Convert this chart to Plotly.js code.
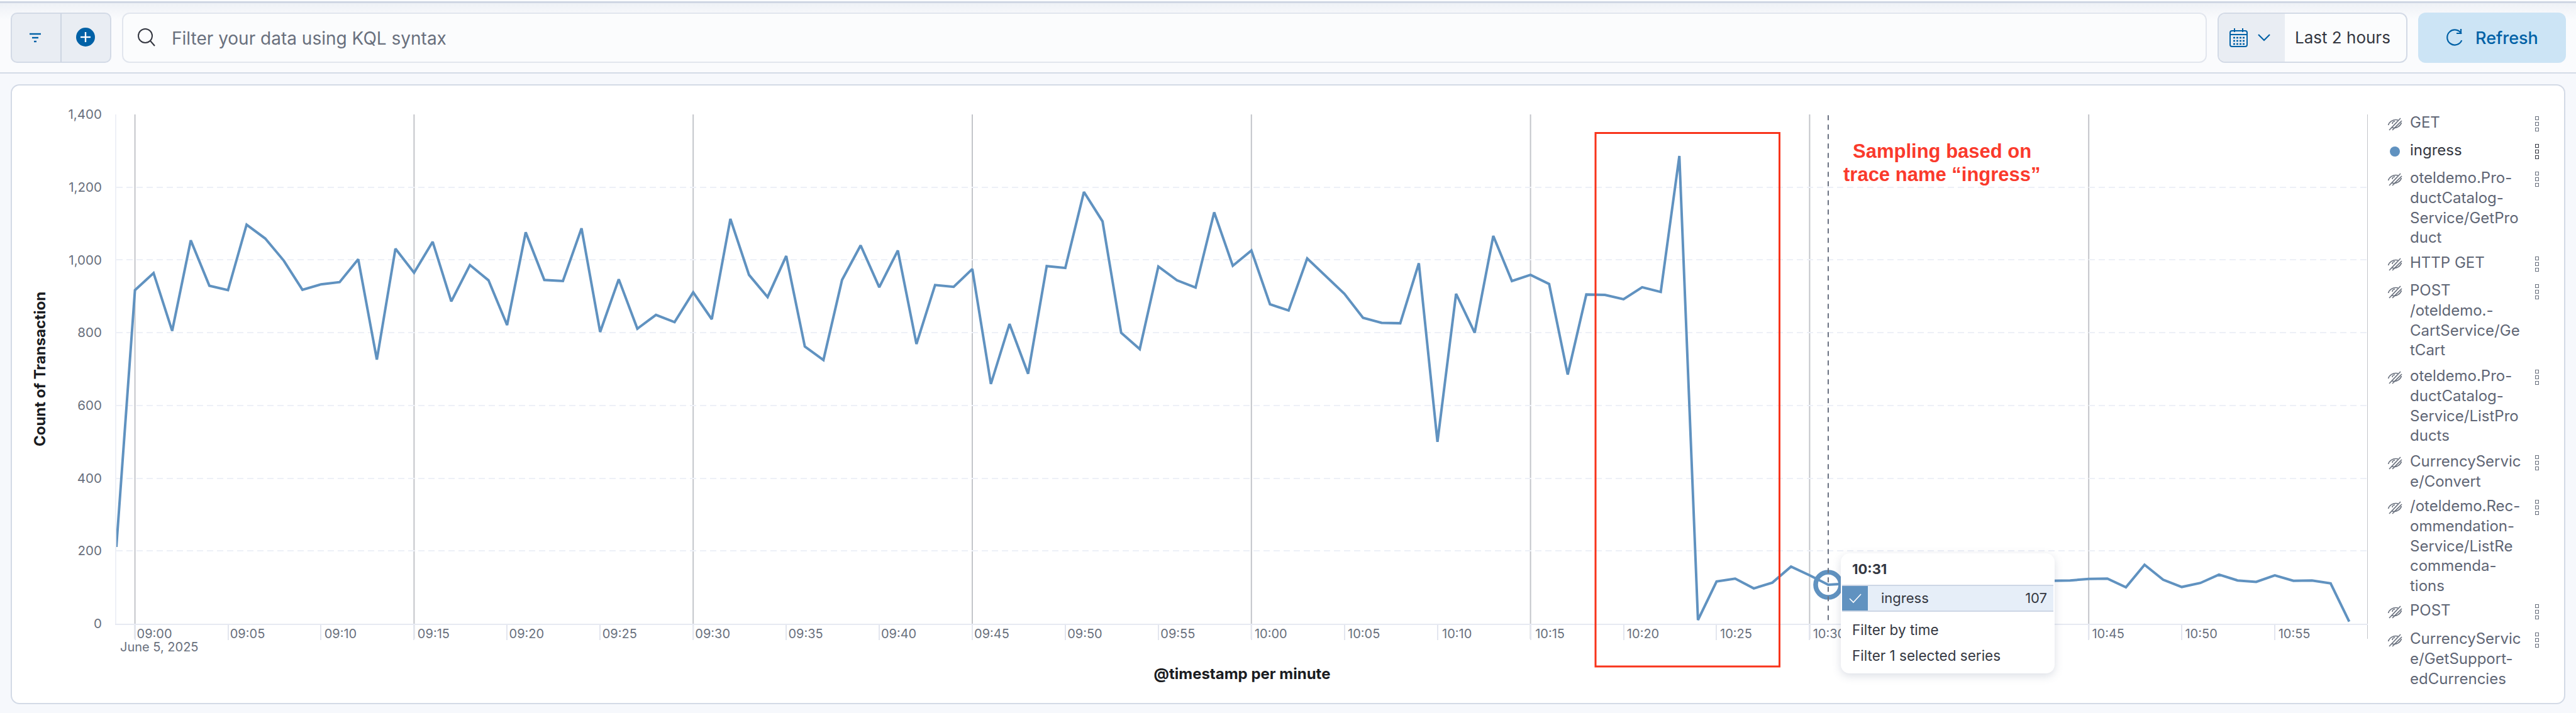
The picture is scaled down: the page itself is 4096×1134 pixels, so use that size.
<!DOCTYPE html>
<html>
<head>
<meta charset="utf-8">
<script src="https://cdn.plot.ly/plotly-3.0.1.min.js"></script>
<style>
html,body{margin:0;padding:0;width:4096px;height:1134px;overflow:hidden;background:#f6f8fc;font-family:Inter,"Noto Sans",sans-serif;}
.abs{position:absolute;box-sizing:border-box;}
#plot{position:absolute;left:0;top:0;width:4096px;height:1134px;}
.txt{position:absolute;white-space:nowrap;line-height:1;transform:translateY(-50%);}
</style>
</head>
<body>
<div class="abs" style="left:0;top:0;width:4096px;height:117px;background:#fafbfd;border-bottom:2px solid #d3dae6;"></div>
<div class="abs" style="left:0;top:2px;width:4096px;height:3px;background:#cfd6e3;"></div>
<div class="abs" style="left:0;top:5px;width:4096px;height:26px;background:linear-gradient(#eef1f6,#fafbfd);"></div>

<!-- filter group -->
<div class="abs" style="left:17px;top:20px;width:160px;height:80px;background:#e9edf3;border:2px solid #d3dae6;border-radius:10px;"></div>
<div class="abs" style="left:96px;top:21px;width:2px;height:78px;background:#cdd5e2;"></div>
<svg class="abs" style="left:41px;top:45px" width="30" height="30"><g stroke="#0061a6" stroke-width="2.4"><line x1="6" y1="9" x2="24" y2="9"/><line x1="10" y1="15" x2="20" y2="15"/><line x1="13" y1="21" x2="17" y2="21"/></g></svg>
<svg class="abs" style="left:120px;top:43px" width="32" height="32"><circle cx="16" cy="16" r="15" fill="#0061a6"/><g stroke="#fff" stroke-width="2.4"><line x1="16" y1="8" x2="16" y2="24"/><line x1="8" y1="16" x2="24" y2="16"/></g></svg>

<!-- search -->
<div class="abs" style="left:194px;top:20px;width:3315px;height:80px;background:#fbfcfd;border:2px solid #e2e6ee;border-radius:12px;"></div>
<svg class="abs" style="left:216px;top:43px" width="34" height="34"><circle cx="15" cy="14" r="11" fill="none" stroke="#343741" stroke-width="2"/><line x1="23" y1="22" x2="30" y2="30" stroke="#343741" stroke-width="2"/></svg>
<div class="txt" style="left:273px;top:61px;font-size:28px;color:#69707d;">Filter your data using KQL syntax</div>

<!-- date picker -->
<div class="abs" style="left:3526px;top:20px;width:302px;height:80px;background:#fbfcfd;border:2px solid #d3dae6;border-radius:12px;overflow:hidden;"><div style="width:105px;height:100%;background:#e9edf3;"></div></div>
<svg class="abs" style="left:3544px;top:44px" width="32" height="32"><g fill="none" stroke="#0061a6" stroke-width="2"><rect x="2" y="5" width="27" height="25" rx="3"/><line x1="2" y1="11" x2="29" y2="11"/><line x1="9" y1="1" x2="9" y2="7"/><line x1="22" y1="1" x2="22" y2="7"/></g><g stroke="#0061a6" stroke-width="2.4" stroke-dasharray="3,2"><line x1="7" y1="16" x2="25" y2="16"/><line x1="7" y1="21" x2="25" y2="21"/><line x1="7" y1="26" x2="25" y2="26"/></g></svg>
<svg class="abs" style="left:3588px;top:50px" width="24" height="20"><polyline points="3,5 12,14 21,5" fill="none" stroke="#0061a6" stroke-width="2.2"/></svg>
<div class="txt" style="left:3649px;top:60px;font-size:26px;color:#343741;">Last 2 hours</div>

<!-- refresh -->
<div class="abs" style="left:3845px;top:20px;width:235px;height:80px;background:#cce4f5;border-radius:12px;"></div>
<svg class="abs" style="left:3887px;top:44px" width="32" height="32"><path d="M24 6.5 A12 12 0 1 0 28 16" fill="none" stroke="#0061a6" stroke-width="2.2" transform="rotate(20 16 16)"/><polyline points="26,2 26,9 19,9" fill="none" stroke="#0061a6" stroke-width="2.2"/></svg>
<div class="txt" style="left:3936px;top:60px;font-size:27px;font-weight:500;color:#0061a6;">Refresh</div>

<!-- card -->
<div class="abs" style="left:17px;top:134px;width:4062px;height:986px;background:#fff;border:2px solid #d3dae6;border-radius:14px;"></div>

<div id="plot"></div>
<div id="legend"></div>

<!-- tooltip -->
<div class="abs" style="left:2927px;top:880px;width:340px;height:191px;background:#fff;border-radius:14px;box-shadow:0 4px 14px rgba(90,105,135,.22);"></div>
<div class="txt" style="left:2945px;top:905px;font-size:22px;font-weight:700;color:#343741;">10:31</div>
<div class="abs" style="left:2929px;top:930px;width:336px;height:43px;background:#e6eef8;border-top:2px solid #cdd6e5;border-bottom:2px solid #cdd6e5;"></div>
<div class="abs" style="left:2929px;top:932px;width:41px;height:39px;background:#6092c0;"></div>
<svg class="abs" style="left:2938px;top:939px" width="24" height="24"><polyline points="3,13 9,19 21,6" fill="none" stroke="#fff" stroke-width="1.6"/></svg>
<div class="txt" style="left:2991px;top:951px;font-size:22px;color:#343741;">ingress</div>
<div class="txt" style="right:841px;top:951px;font-size:22px;color:#343741;">107</div>
<div class="txt" style="left:2945px;top:1002px;font-size:22.5px;color:#343741;">Filter by time</div>
<div class="txt" style="left:2945px;top:1043px;font-size:22.5px;color:#343741;">Filter 1 selected series</div>

<script>
// ---- chart data ----
const startMinuteOfDay = 8 * 60 + 59;
const day = '2025-06-05';
const ingress = [
  211, 917, 964, 805, 1054, 929, 917, 1097, 1059, 998, 918, 933, 939, 1002, 726, 1031, 965,
  1050, 886, 986, 944, 821, 1076, 945, 942, 1087, 802, 947, 811, 849, 829, 911, 837, 1113,
  959, 898, 1011, 762, 725, 945, 1040, 925, 1026, 769, 931, 926, 975, 659, 824, 687, 983,
  978, 1187, 1106, 800, 755, 982, 944, 924, 1131, 984, 1026, 878, 861, 1004, 955, 907, 841,
  827, 826, 991, 500, 907, 800, 1066, 942, 959, 934, 685, 905, 904, 892, 925, 912, 1286,
  10, 116, 124, 97, 113, 157, 133, 107, 110, 122, 108, 117, 125, 113, 119, 128, 112, 120,
  117, 118, 119, 123, 124, 100, 162, 121, 101, 112, 135, 119, 115, 133, 118, 119, 111, 6
];
const tickTimes = ['09:00','09:05','09:10','09:15','09:20','09:25','09:30','09:35','09:40','09:45','09:50','09:55',
  '10:00','10:05','10:10','10:15','10:20','10:25','10:30','10:35','10:40','10:45','10:50','10:55'];
// 10:35 and 10:40 sit behind the tooltip in the reference, so they carry no visible label
const tickLabels = ['09:00','09:05','09:10','09:15','09:20','09:25','09:30','09:35','09:40','09:45','09:50','09:55',
  '10:00','10:05','10:10','10:15','10:20','10:25','10:30','','','10:45','10:50','10:55'];
const majorTimes = ['09:00','09:15','09:30','09:45','10:00','10:15','10:30','10:45','11:00'];
const yTicks = [0,200,400,600,800,1000,1200,1400];
const hoverTime = '10:31';
const hoverValue = 107;
const legendEntries = [
  {lines:['GET'], top:195},
  {lines:['ingress'], top:239, active:true},
  {lines:['oteldemo.Pro-','ductCatalog-','Service/GetPro','duct'], top:283},
  {lines:['HTTP GET'], top:418},
  {lines:['POST','/oteldemo.-','CartService/Ge','tCart'], top:462},
  {lines:['oteldemo.Pro-','ductCatalog-','Service/ListPro','ducts'], top:598},
  {lines:['CurrencyServic','e/Convert'], top:734},
  {lines:['/oteldemo.Rec-','ommendation-','Service/ListRe','commenda-','tions'], top:805},
  {lines:['POST'], top:971},
  {lines:['CurrencyServic','e/GetSupport-','edCurrencies'], top:1016}
];

// ---- helpers ----
const t = hm => day + ' ' + hm;
const pad = n => String(n).padStart(2,'0');
const times = ingress.map((_,i)=>{const m=startMinuteOfDay+i;return t(pad(Math.floor(m/60))+':'+pad(m%60));});
const px = x => (x-185)/3580;
const py = y => (992-y)/810;

const shapes = majorTimes.map(hm=>({type:'line',xref:'x',yref:'paper',x0:t(hm),x1:t(hm),y0:py(1016),y1:1,
  line:{color:'#c3c5ca',width:2},layer:'below'}));
shapes.push({type:'line',xref:'x',yref:'y',x0:t(hoverTime),x1:t(hoverTime),y0:10,y1:1400,
  line:{color:'#6a7181',width:2,dash:'8px,7px'}});
shapes.push({type:'rect',xref:'paper',yref:'paper',x0:px(2537),x1:px(2829.5),y0:py(1060),y1:py(211.5),
  line:{color:'#f8331a',width:3},fillcolor:'rgba(0,0,0,0)'});

const redFont = {family:'"Liberation Sans",Arial,sans-serif',size:31,color:'#fa3a2c',weight:700};
const annotations = [
  {xref:'paper',yref:'paper',x:px(189),y:py(1029),xanchor:'left',yanchor:'middle',showarrow:false,
   text:'June 5, 2025',font:{family:'Inter',size:20,color:'#69707d'}},
  {xref:'paper',yref:'paper',x:px(3088),y:py(240),xanchor:'center',yanchor:'middle',showarrow:false,
   text:'<b>Sampling based on</b>',font:redFont},
  {xref:'paper',yref:'paper',x:px(3088),y:py(278),xanchor:'center',yanchor:'middle',showarrow:false,
   text:'<b>trace name “ingress”</b>',font:redFont}
];

const traces = [
  {x:times,y:ingress,type:'scatter',mode:'lines',name:'ingress',line:{color:'#6092c0',width:4},hoverinfo:'skip'},
  {x:[t(hoverTime)],y:[hoverValue],type:'scatter',mode:'markers',name:'hover',hoverinfo:'skip',
   marker:{size:40,color:'rgba(0,0,0,0)',line:{color:'#6092c0',width:7.5}}}
];

const layout = {
  width:4096,height:1134,showlegend:false,
  paper_bgcolor:'rgba(0,0,0,0)',plot_bgcolor:'rgba(0,0,0,0)',
  margin:{l:185,r:331,t:182,b:142,pad:0},
  font:{family:'Inter',size:20,color:'#69707d'},
  xaxis:{type:'date',range:[t('08:59'),t('11:00')],tickmode:'array',
    tickvals:tickTimes.map(t),ticktext:tickLabels,
    ticks:'outside',ticklen:24,tickwidth:2,tickcolor:'#e3e6ef',
    ticklabelshift:31,ticklabelstandoff:-27,
    showgrid:false,zeroline:false,showline:true,linecolor:'#e6e9f2',linewidth:2,
    tickfont:{family:'Inter',size:20,color:'#69707d'},
    title:{text:'@timestamp per minute',standoff:44,font:{family:'Inter',size:24,weight:700,color:'#1a1c21'}}},
  yaxis:{range:[0,1400],tickmode:'array',tickvals:yTicks,tickformat:',d',
    ticks:'',ticklabelstandoff:17,
    showgrid:true,gridcolor:'#edf0f7',gridwidth:2,griddash:'10px,6px',
    zeroline:false,showline:true,linecolor:'#eef0f6',linewidth:2,
    tickfont:{family:'Inter',size:20.5,color:'#69707d'},
    title:{text:'Count of Transaction',standoff:29,font:{family:'Inter',size:24,weight:700,color:'#1a1c21'}}},
  shapes,annotations
};
Plotly.newPlot('plot',traces,layout,{displayModeBar:false,staticPlot:true});

// ---- legend panel ----
const legendEl = document.getElementById('legend');
const eye = top => `<svg class="abs" style="left:3796px;top:${top-12}px" width="24" height="24" viewBox="0 0 24 24"><g fill="none" stroke="#69707d" stroke-width="1.6"><path d="M1.5 14 C3 9 9 4 17 6 M22.5 10 C21 15 15 20 7 18"/><path d="M12 8 A4 4 0 0 0 8 12"/><line x1="3" y1="22" x2="21" y2="3"/><line x1="8" y1="22" x2="23" y2="7"/></g></svg>`;
const dots = (top,c) => [0,9,18].map(d=>`<div class="abs" style="left:4031px;top:${top-12+d}px;width:6px;height:6px;border:1.4px solid ${c};"></div>`).join('');
legendEl.innerHTML = legendEntries.map(e=>{
  const col = e.active ? '#343741' : '#5f6675';
  const icon = e.active
    ? `<div class="abs" style="left:3800px;top:${e.top-6}px;width:16px;height:16px;border-radius:50%;background:#6092c0;"></div>`
    : eye(e.top+2);
  const lines = e.lines.map((s,i)=>`<div class="txt" style="left:3832px;top:${e.top+i*31.8}px;font-size:24px;color:${col};">${s}</div>`).join('');
  return icon+lines+dots(e.top+2,e.active?'#343741':'#69707d');
}).join('');
</script>
</body>
</html>
